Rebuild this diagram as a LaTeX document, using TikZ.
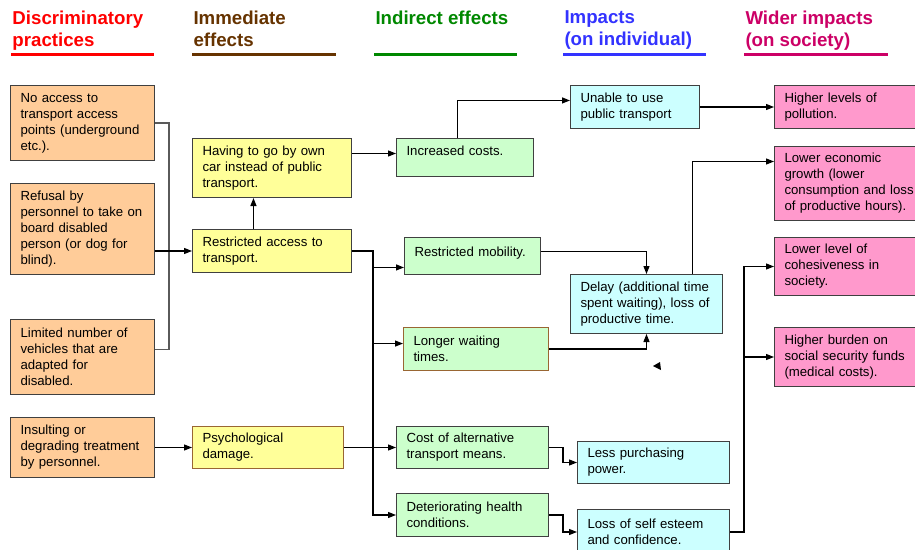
\documentclass[tikz,border=0pt]{standalone}
\usepackage{fontspec}
\setmainfont{Liberation Sans}
\usetikzlibrary{arrows.meta}

\definecolor{causefill}{RGB}{255,204,153}
\definecolor{effectfill}{RGB}{255,255,153}
\definecolor{indirectfill}{RGB}{204,255,204}
\definecolor{impactfill}{RGB}{204,255,255}
\definecolor{widerfill}{RGB}{255,153,204}
\definecolor{boxline}{RGB}{64,64,64}
\definecolor{brownline}{RGB}{153,102,51}
\definecolor{headred}{RGB}{255,0,0}
\definecolor{headbrown}{RGB}{102,51,0}
\definecolor{headgreen}{RGB}{0,136,0}
\definecolor{headblue}{RGB}{51,51,255}
\definecolor{headpink}{RGB}{204,0,102}

\tikzset{every picture/.style={line width=0.75pt}}

\begin{document}
\begin{tikzpicture}[x=0.75pt,y=0.75pt,yscale=-1,xscale=1,
    box/.style={draw=boxline, anchor=north west, inner xsep=7.5pt, inner ysep=2pt,
      align=left, font=\fontsize{9.9}{12}\selectfont},
    head/.style={anchor=north west, inner sep=0pt, align=left,
      font=\fontsize{14}{16.5}\selectfont\bfseries},
    rule/.style={line width=2.25pt},
    link/.style={-{Triangle[length=6pt,width=4.5pt]}, line width=0.9pt},
    graylink/.style={draw={rgb,255:red,90;green,90;blue,90}, line width=0.9pt}]
\useasboundingbox (0,0) rectangle (915,550);
\fill[white] (0,0) rectangle (915,550);
\clip (0,0) rectangle (915,550);

% Headings
\node[head, text=headred] (hd1) at (12,10) {Discriminatory\\practices};
\node[head, text=headbrown] (hd2) at (193,10) {Immediate\\effects};
\node[head, text=headgreen] (hd3) at (375,10) {Indirect effects};
\node[head, text=headblue] (hd4) at (564,10) {Impacts\\(on individual)};
\node[head, text=headpink] (hd5) at (745,10) {Wider impacts\\(on society)};
\draw[rule, headred] (11,54) -- (154,54);
\draw[rule, headbrown] (192,54) -- (336,54);
\draw[rule, headgreen] (374,54) -- (517,54);
\draw[rule, headblue] (563,54) -- (706,54);
\draw[rule, headpink] (744,54) -- (888,54);

% Discriminatory practices
\node[box, fill=causefill, text width=93pt, minimum height=56.25pt] (a1) at (10,85) {No access to\\transport access\\points (underground\\etc.).};
\node[box, fill=causefill, text width=93pt, minimum height=68.25pt] (a2) at (10,183) {Refusal by\\personnel to take on\\board disabled\\person (or dog for\\blind).};
\node[box, fill=causefill, text width=93pt, minimum height=56.25pt] (a3) at (10,319) {Limited number of\\vehicles that are\\adapted for\\disabled.};
\node[box, fill=causefill, text width=93pt, minimum height=45pt] (a4) at (10,417) {Insulting or\\degrading treatment\\by personnel.};

% Immediate effects
\node[box, fill=effectfill, text width=104.25pt, minimum height=44.25pt] (b1) at (192,138) {Having to go by own\\car instead of public\\transport.};
\node[box, fill=effectfill, text width=104.25pt, minimum height=32.25pt] (b2) at (192,229) {Restricted access to\\transport.};
\node[box, fill=effectfill, draw=brownline, text width=98.25pt, minimum height=31.5pt] (b3) at (192,426) {Psychological\\damage.};

% Indirect effects
\node[box, fill=indirectfill, text width=87.75pt, minimum height=28.5pt, text depth=10pt] (c1) at (396,138) {Increased costs.};
\node[box, fill=indirectfill, text width=87pt, minimum height=27.75pt, text depth=7pt] (c2) at (404,237) {Restricted mobility.};
\node[box, fill=indirectfill, draw=brownline, text width=93.75pt, minimum height=32.25pt] (c3) at (403,327) {Longer waiting\\times.};
\node[box, fill=indirectfill, text width=99pt, minimum height=31.5pt] (c4) at (396,426) {Cost of alternative\\transport means.};
\node[box, fill=indirectfill, text width=99pt, minimum height=32.25pt] (c5) at (396,493) {Deteriorating health\\conditions.};

% Impacts (on individual)
\node[box, fill=impactfill, text width=81.75pt, minimum height=32.25pt] (d1) at (570,85) {Unable to use\\public transport};
\node[box, fill=impactfill, text width=99pt, minimum height=44.25pt] (d2) at (570,274) {Delay (additional time\\spent waiting), loss of\\productive time.};
\node[box, fill=impactfill, text width=99pt, minimum height=31.5pt] (d3) at (577,441) {Less purchasing\\power.};
\node[box, fill=impactfill, text width=99pt, minimum height=33.75pt] (d4) at (577,509) {Loss of self esteem\\and confidence.};

% Wider impacts (on society)
\node[box, fill=widerfill, text width=105pt, minimum height=32.25pt] (e1) at (774,85) {Higher levels of\\pollution.};
\node[box, fill=widerfill, text width=105pt, minimum height=55.5pt] (e2) at (774,146) {Lower economic\\growth (lower\\consumption and loss\\of productive hours).};
\node[box, fill=widerfill, text width=105pt, minimum height=43.5pt] (e3) at (774,237) {Lower level of\\cohesiveness in\\society.};
\node[box, fill=widerfill, text width=105pt, minimum height=44.25pt] (e4) at (774,327) {Higher burden on\\social security funds\\(medical costs).};

% Junctions (yshift runs downwards here, yscale=-1)
\coordinate (lbus) at (169,0);
\coordinate (bus) at (373,0);
\coordinate (a3out) at ([yshift=-5.6pt]a3.east);
\coordinate (c1in) at ([yshift=-3pt]c1.west);
\coordinate (c2in) at ([yshift=8.6pt]c2.west);
\coordinate (c3in) at ([yshift=-4.1pt]c3.west);
\coordinate (c2out) at ([yshift=-3.4pt]c2.east);
\coordinate (d1in) at ([yshift=-4.9pt]d1.west);
\coordinate (e2in) at ([yshift=-16.5pt]e2.west);

% Connectors
\draw[graylink] (a1.east) -| (lbus |- a3out) -- (a3out);
\draw[link] (a2.east |- b2.west) -- (b2.west);
\draw[link] ([xshift=-13.9pt]b2.north) -- ([xshift=-13.9pt]b2.north |- b1.south);
\draw[link] (a4.east) -- (b3.west);
\draw[link] (b1.east |- c1in) -- (c1in);
\draw[link] (b2.east) -| (bus |- c5.west) -- (c5.west);
\draw (b3.east) -- (bus |- b3.east);
\draw[link] (bus |- c2in) -- (c2in);
\draw[link] (bus |- c3in) -- (c3in);
\draw[link] (bus |- c4.west) -- (c4.west);
\draw[link] ([xshift=-5.6pt]c1.north) |- (d1in);
\draw[link] (c2out) -| (d2.north);
\draw[link] (c3.east) -| (d2.south);
\draw[link] (c4.east) -- ++(14,0) |- (d3.west);
\draw[link] (c5.east) -- ++(14,0) |- (d4.west);
\draw[link] (d1.east) -- (e1.west);
\draw[link] ([xshift=34.5pt]d2.north) |- (e2in);
\draw[link] (d4.east) -| ([xshift=-22.5pt]e3.west) -- (e3.west);
\draw[link] ([xshift=-22.5pt]e4.west) -- (e4.west);

% Stray arrowhead
\fill (653,366) -- (660,362) -- (661,370) -- cycle;

\end{tikzpicture}
\end{document}
